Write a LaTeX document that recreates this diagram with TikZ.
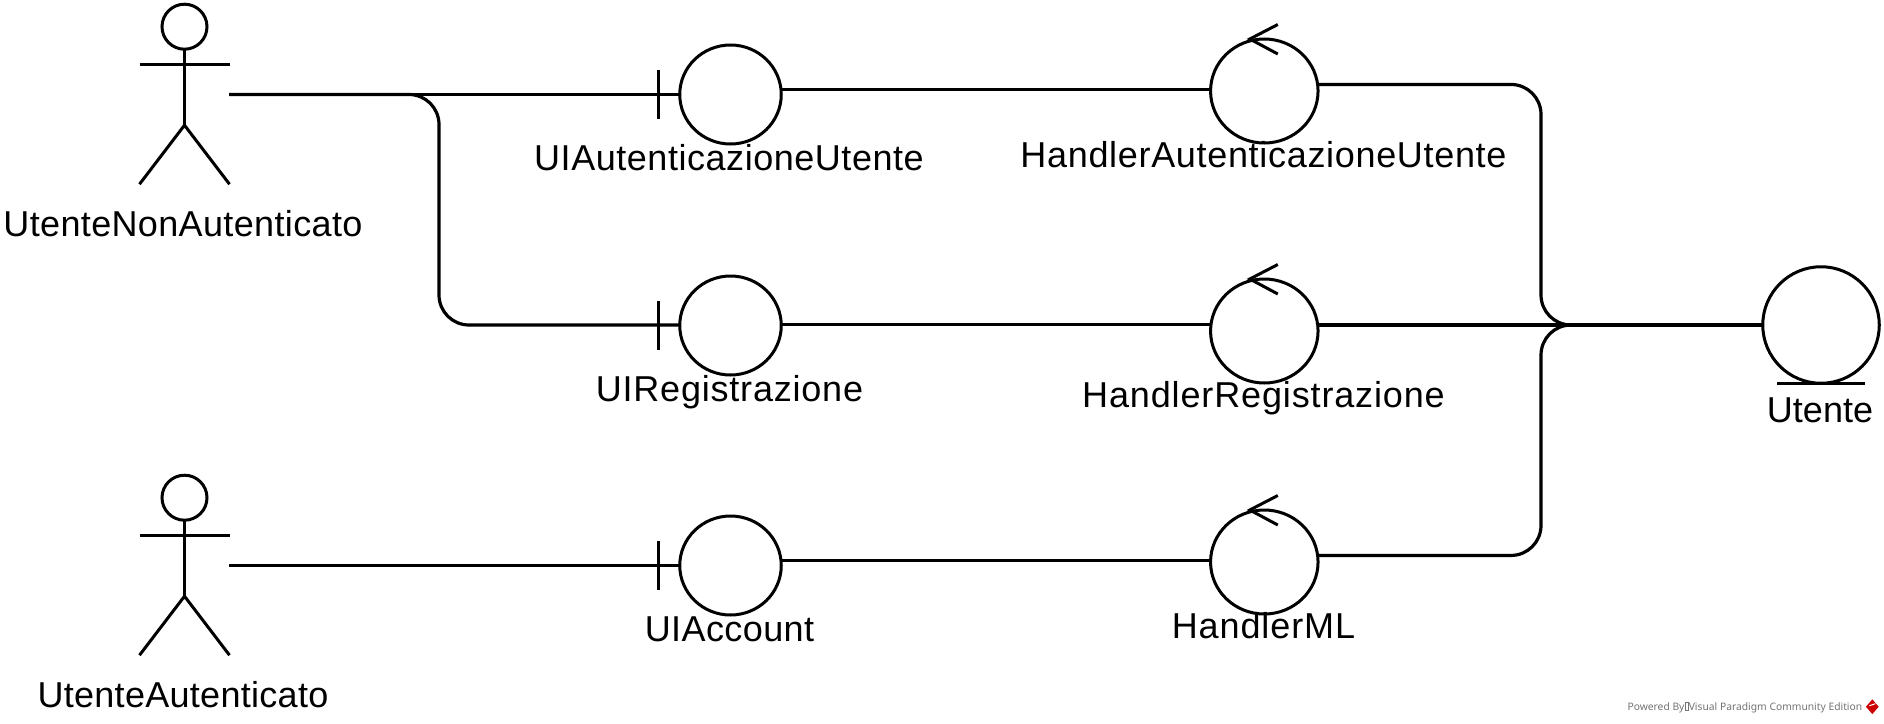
\documentclass[tikz,border=0pt]{standalone}
\usepackage{fontspec}
\setmainfont{Liberation Sans}
\newfontfamily\stampfont{Noto Sans}
\usetikzlibrary{shapes.geometric}
\begin{document}
\begin{tikzpicture}[x = 1pt, y = -1pt,
                    line width = 3pt,
                    head/.style = {shape = circle,
                                   draw,
                                   inner sep = 0pt,
                                   outer sep = 0pt,
                                   minimum size = 45pt},
                    boundary/.style = {shape = ellipse,
                                       draw,
                                       inner sep = 0pt,
                                       outer sep = 0pt,
                                       minimum width = 101.5pt,
                                       minimum height = 99pt},
                    handler/.style = {boundary,
                                      minimum width = 107.5pt,
                                      minimum height = 104pt},
                    entity/.style = {boundary,
                                     minimum width = 116.5pt,
                                     minimum height = 116.5pt},
                    mlabel/.default = 0,
                    mlabel/.style = {anchor = base,
                                     inner sep = 0pt,
                                     font = \fontsize{36pt}{36pt}\selectfont\addfontfeature{LetterSpace=#1}},
                    link/.style = {line width = 3.2pt, rounded corners = 30pt}]
	\useasboundingbox (0,0) rectangle (1884,723);

	\node[head] (head1) at (184.5,26.7) {};
	\node[head] (head2) at (184.5,497.7) {};
	\node[boundary] (uiauth) at (730.5,94.5) {};
	\node[boundary] (uireg) at (730.5,325.5) {};
	\node[boundary] (uiacc) at (730.5,565.5) {};
	\node[handler] (hauth) at (1264.3,91) {};
	\node[handler] (hreg) at (1264.3,331) {};
	\node[handler] (hml) at (1264.3,562) {};
	\node[entity] (utente) at (1821,325) {};

	\node[mlabel=1] (lnonaut) at (183,236) {UtenteNonAutenticato};
	\node[mlabel=.8] (laut) at (183,707) {UtenteAutenticato};
	\node[mlabel=1.5] (luiauth) at (729,170) {UIAutenticazioneUtente};
	\node[mlabel=2.2] (luireg) at (729.5,401.7) {UIRegistrazione};
	\node[mlabel=1.1] (luiacc) at (729.5,641.7) {UIAccount};
	\node[mlabel=1.9] (lhauth) at (1263.5,167.7) {HandlerAutenticazioneUtente};
	\node[mlabel=2.4] (lhreg) at (1263.5,407.7) {HandlerRegistrazione};
	\node[mlabel=2.5] (lhml) at (1263.5,638.3) {HandlerML};
	\node[mlabel] (lutente) at (1820,422) {Utente};

	\foreach \n in {head1,head2} {
		\draw (\n.south) -- ([yshift=-76pt]\n.south) coordinate (\n hip);
		\draw ([xshift=-45pt,yshift=-15pt]\n.south) -- ([xshift=45pt,yshift=-15pt]\n.south);
		\draw ([xshift=-45pt,yshift=-59pt]\n hip) -- (\n hip) -- ([xshift=45pt,yshift=-59pt]\n hip);
	}

	\foreach \n in {uiauth,uireg,uiacc} {
		\draw ([xshift=-21pt,yshift=24.5pt]\n.west) -- ([xshift=-21pt,yshift=-24.5pt]\n.west);
	}

	\foreach \n in {hauth,hreg,hml} {
		\draw ([xshift=13.5pt,yshift=14.5pt]\n.north) -- ([xshift=-14.5pt]\n.north) -- ([xshift=13.5pt,yshift=-15pt]\n.north);
	}

	\draw (utente.south) ++(-44,0) coordinate (barl) -- ++(88,0) coordinate (barr);

	\coordinate (port1) at (229,94.5);
	\coordinate (port2) at (229,565.5);
	\coordinate (turn) at (439,325);
	\coordinate (junction) at (1541,325);

	\draw[link] (port1) -- (uiauth.west);
	\draw[link] (port1) -| (turn) -- (uireg.west |- turn);
	\draw[link] (port2) -- (uiacc.west);

	\draw[link] (uiauth.6) -- (uiauth.6 -| hauth.west);
	\draw[link] (uireg.1) -- (uireg.1 -| hreg.west);
	\draw[link] (uiacc.6) -- (uiacc.6 -| hml.west);

	\draw[link] (hauth.7) -| (junction) -- (utente.west);
	\draw[link] (hreg.east |- junction) -- (utente.west);
	\draw[link] (hml.7) -| (junction) -- (utente.west);

	\node[anchor = base west, inner sep = 0pt, text = black!55,
	      font = \stampfont\fontsize{10.3pt}{12pt}\selectfont] (stamp) at (1626,710)
		{Powered By\setlength{\fboxsep}{0pt}\setlength{\fboxrule}{.4pt}\fbox{\hspace{3.5pt}\rule{0pt}{8pt}}Visual Paradigm Community Edition};
	\node[shape = diamond, fill = red!80!black, inner sep = 0pt, minimum width = 14pt, minimum height = 16pt] (logo) at (1872.3,706.7) {};
	\draw[white, line width = 1pt] ([xshift=-3pt,yshift=1pt]logo.center) -- ([xshift=3pt,yshift=3pt]logo.center);
\end{tikzpicture}
\end{document}
